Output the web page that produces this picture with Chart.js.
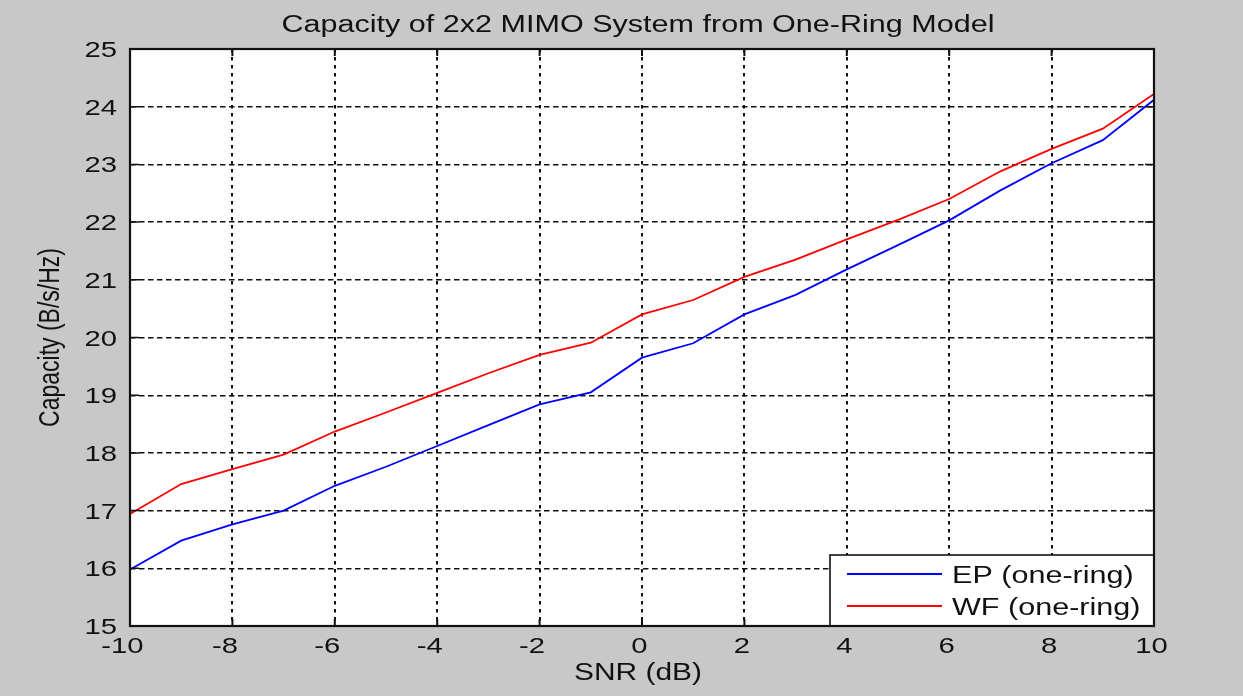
<!DOCTYPE html>
<html>
<head>
<meta charset="utf-8">
<script src="https://cdn.jsdelivr.net/npm/chart.js@4/dist/chart.umd.min.js"></script>
<style>
  html, body { margin: 0; padding: 0; background: #c8c8c8; }
  #wrap { width: 1243px; height: 696px; }
</style>
</head>
<body>
<div id="wrap"><canvas id="c" width="1243" height="696"></canvas></div>
<script>
// SNR sweep (dB) and capacity per scheme (bits/s/Hz)
const snrDb = [-10, -9, -8, -7, -6, -5, -4, -3, -2, -1, 0, 1, 2, 3, 4, 5, 6, 7, 8, 9, 10];
const capEP = [15.98, 16.48, 16.76, 17.0, 17.43, 17.76, 18.12, 18.48, 18.84, 19.05, 19.65, 19.9, 20.4, 20.74, 21.18, 21.6, 22.03, 22.55, 23.02, 23.42, 24.12];
const capWF = [16.94, 17.46, 17.72, 17.97, 18.37, 18.7, 19.04, 19.38, 19.7, 19.91, 20.4, 20.65, 21.05, 21.35, 21.7, 22.04, 22.4, 22.88, 23.27, 23.62, 24.22];
const seriesNames = ['EP (one-ring)', 'WF (one-ring)'];
const xTicks = [-10, -8, -6, -4, -2, 0, 2, 4, 6, 8, 10];
const yTicks = [15, 16, 17, 18, 19, 20, 21, 22, 23, 24, 25];
const titleText = 'Capacity of 2x2 MIMO System from One-Ring Model';
const xTitle = 'SNR (dB)';
const yTitle = 'Capacity (B/s/Hz)';

const FONT = "'Liberation Sans', Arial, sans-serif";
const SX = 1.3;            // the figure is drawn wide: text is stretched horizontally
const INK = '#111';

function wideText(ctx, str, x, y, size, align, baseline, rotated) {
  ctx.save();
  ctx.translate(x, y);
  ctx.scale(SX, 1);
  if (rotated) ctx.rotate(-Math.PI / 2);
  ctx.font = size + 'px ' + FONT;
  ctx.fillStyle = INK;
  ctx.textAlign = align;
  ctx.textBaseline = baseline;
  ctx.fillText(str, 0, 0);
  ctx.restore();
}

const frame = {
  id: 'frame',
  beforeDraw(chart) {
    const { ctx, chartArea: a } = chart;
    ctx.save();
    ctx.fillStyle = '#c8c8c8';
    ctx.fillRect(0, 0, chart.width, chart.height);
    ctx.fillStyle = '#ffffff';
    ctx.fillRect(a.left, a.top, a.right - a.left, a.bottom - a.top);
    ctx.restore();
  },
  afterDatasetsDraw(chart) {
    const { ctx, chartArea: a, scales } = chart;
    ctx.save();
    ctx.strokeStyle = INK;

    // inward tick marks on all four sides
    ctx.lineWidth = 2;
    xTicks.forEach(v => {
      const x = scales.x.getPixelForValue(v);
      ctx.beginPath();
      ctx.moveTo(x, a.bottom); ctx.lineTo(x, a.bottom - 7);
      ctx.moveTo(x, a.top); ctx.lineTo(x, a.top + 7);
      ctx.stroke();
    });
    ctx.lineWidth = 1.5;
    yTicks.forEach(v => {
      const y = scales.y.getPixelForValue(v);
      ctx.beginPath();
      ctx.moveTo(a.left, y); ctx.lineTo(a.left + 9, y);
      ctx.moveTo(a.right, y); ctx.lineTo(a.right - 9, y);
      ctx.stroke();
    });

    // legend box in the lower right corner
    const lx = 830, ly = 555, lw = a.right - lx, lh = a.bottom - ly;
    ctx.fillStyle = '#ffffff';
    ctx.fillRect(lx, ly, lw, lh);
    ctx.lineWidth = 1.6;
    ctx.strokeRect(lx, ly, lw, lh);
    chart.data.datasets.forEach((ds, i) => {
      const y = 574 + i * 32;
      ctx.strokeStyle = ds.borderColor;
      ctx.lineWidth = 1.8;
      ctx.beginPath();
      ctx.moveTo(847, y); ctx.lineTo(942, y);
      ctx.stroke();
      wideText(ctx, ds.label, 952, y + 9, 23.5, 'left', 'alphabetic', false);
    });

    // axes box
    ctx.strokeStyle = INK;
    ctx.lineWidth = 2.2;
    ctx.strokeRect(a.left, a.top, a.right - a.left, a.bottom - a.top);

    // tick labels
    xTicks.forEach(v => {
      const x = scales.x.getPixelForValue(v) - 2.5 - (v < 0 ? 5 : 0);
      wideText(ctx, String(v), x, 653, 22.5, 'center', 'alphabetic', false);
    });
    yTicks.forEach(v => {
      const y = scales.y.getPixelForValue(v);
      wideText(ctx, String(v), 117, y + 8, 22.5, 'right', 'alphabetic', false);
    });

    // titles
    wideText(ctx, titleText, 638, 31.5, 23.5, 'center', 'alphabetic', false);
    wideText(ctx, xTitle, 638, 680, 23, 'center', 'alphabetic', false);
    wideText(ctx, yTitle, 51, (a.top + a.bottom) / 2, 23, 'center', 'middle', true);
    ctx.restore();
  }
};

new Chart(document.getElementById('c'), {
  type: 'line',
  data: {
    datasets: [
      { label: seriesNames[0], data: snrDb.map((x, i) => ({ x, y: capEP[i] })), borderColor: '#0000ff', borderWidth: 1.8, pointRadius: 0, tension: 0, fill: false },
      { label: seriesNames[1], data: snrDb.map((x, i) => ({ x, y: capWF[i] })), borderColor: '#ff0000', borderWidth: 1.8, pointRadius: 0, tension: 0, fill: false }
    ]
  },
  options: {
    responsive: false,
    animation: false,
    devicePixelRatio: 1,
    layout: { padding: { top: 49, right: 89, left: 0, bottom: 0 } },
    plugins: { legend: { display: false }, title: { display: false }, tooltip: { enabled: false } },
    scales: {
      x: {
        type: 'linear', min: -10, max: 10,
        afterBuildTicks(s) { s.ticks = xTicks.map(v => ({ value: v })); },
        afterFit(s) { s.height = 70; },
        grid: { color: INK, lineWidth: 2, drawTicks: false, tickLength: 0 },
        border: { display: false, dash: [3.5, 4.5] },
        ticks: { display: false }
      },
      y: {
        type: 'linear', min: 15, max: 25,
        afterBuildTicks(s) { s.ticks = yTicks.map(v => ({ value: v })); },
        afterFit(s) { s.width = 130; },
        grid: { color: INK, lineWidth: 1.4, drawTicks: false, tickLength: 0 },
        border: { display: false, dash: [5.5, 3.5] },
        ticks: { display: false }
      }
    }
  },
  plugins: [frame]
});
</script>
</body>
</html>
